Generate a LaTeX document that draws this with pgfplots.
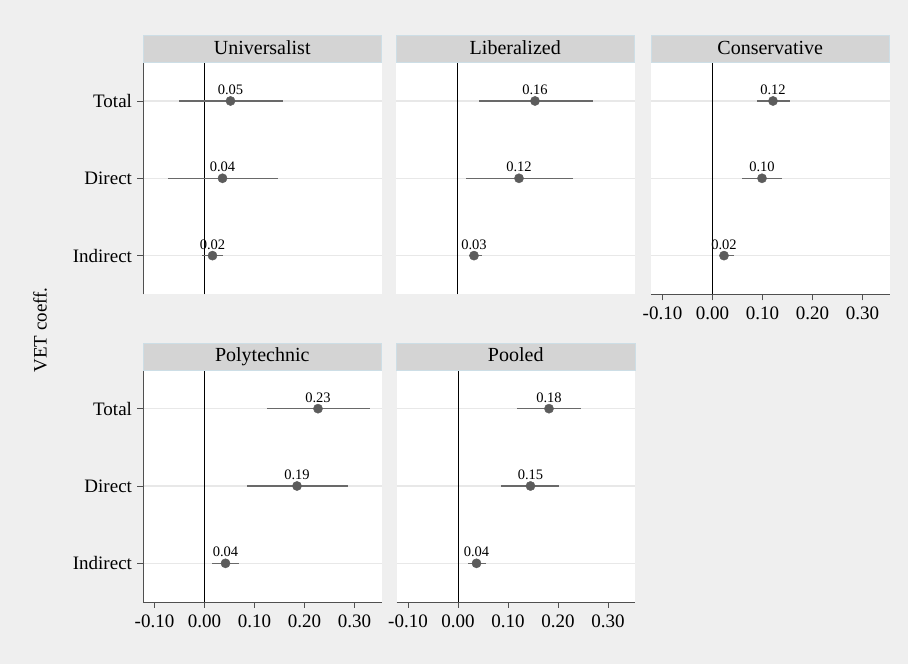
\documentclass[border=0pt]{standalone}
\usepackage{fontspec}
\setmainfont{Liberation Serif}
\usepackage{pgfplots}
\usepackage{pgfplotstable}
\pgfplotsset{compat=1.18}
\definecolor{bgc}{RGB}{239,239,239}
\definecolor{stripc}{RGB}{212,212,212}
\definecolor{stripb}{RGB}{205,222,230}
\definecolor{gridc}{RGB}{232,232,232}
\definecolor{ptc}{RGB}{92,92,92}
\definecolor{cic}{RGB}{105,105,105}
\definecolor{spinec}{RGB}{80,80,80}

\pgfplotsset{
 panel/.style={scale only axis, width=238.5pt, height=232pt,
   xmin=-0.123, xmax=0.354, ymin=0.5, ymax=3.5,
   ytick={1,2,3}, yticklabels={Indirect,Direct,Total},
   ymajorgrids, major grid style={gridc, line width=1.2pt},
   axis background/.style={fill=white},
   separate axis lines, axis x line*=bottom, axis y line*=left,
   x axis line style={spinec, line width=0.9pt, -},
   y axis line style={spinec, line width=0.9pt, -},
   tick align=outside,
   xtick={-0.1,0,0.1,0.2,0.3},
   tick label style={font=\fontsize{19}{21}\selectfont},
   y tick label style={xshift=-1.5pt},
   x tick label style={yshift=-3.5pt, /pgf/number format/.cd, fixed, fixed zerofill, precision=2, assume math mode=true},
   major tick length=6pt, tick style={spinec, line width=0.9pt},
   clip=false, anchor=south west},
 noleft/.style={yticklabels={}, y axis line style={draw=none}, ytick style={draw=none}},
 nobottom/.style={xtick=\empty, x axis line style={draw=none}},
 coef/.style={only marks, mark=*, mark size=4.6pt, mark options={fill=ptc, draw=ptc},
   nodes near coords, point meta=explicit symbolic,
   every node near coord/.append style={font=\fontsize{14.5}{16}\selectfont, anchor=south, inner sep=0pt, yshift=6pt, text=black},
   error bars/.cd, x dir=both, x explicit, error mark=none,
   error bar style={cic, line width=1.3pt}},
}
\newcommand{\zeroline}{\addplot[black, line width=0.8pt, no marks] coordinates {(0,0.5) (0,3.5)};}
\newcommand{\coefplot}[1]{\addplot[coef] table[x=b, y=y, x error plus expr=\thisrow{hi}-\thisrow{b}, x error minus expr=\thisrow{b}-\thisrow{lo}, meta=lab] {#1};}

\pgfplotstableread{
y b lo hi lab
3 0.052 -0.051 0.156 0.05
2 0.036 -0.073 0.146 0.04
1 0.016 -0.005 0.037 0.02
}\tUni
\pgfplotstableread{
y b lo hi lab
3 0.155 0.042 0.270 0.16
2 0.123 0.017 0.230 0.12
1 0.033 0.023 0.049 0.03
}\tLib
\pgfplotstableread{
y b lo hi lab
3 0.121 0.089 0.155 0.12
2 0.099 0.059 0.139 0.10
1 0.023 0.014 0.043 0.02
}\tCon
\pgfplotstableread{
y b lo hi lab
3 0.227 0.124 0.331 0.23
2 0.185 0.084 0.287 0.19
1 0.042 0.015 0.069 0.04
}\tPol
\pgfplotstableread{
y b lo hi lab
3 0.182 0.117 0.245 0.18
2 0.145 0.086 0.202 0.15
1 0.037 0.019 0.055 0.04
}\tPoo

\begin{document}
\begin{tikzpicture}[x=1pt,y=1pt]
\fill[bgc] (0,0) rectangle (908,664);

\begin{axis}[panel, nobottom, name=p1, at={(143pt,369.7pt)}]
\zeroline
\coefplot{\tUni}
\end{axis}

\begin{axis}[panel, nobottom, noleft, name=p2, at={(396pt,369.7pt)}]
\zeroline
\coefplot{\tLib}
\end{axis}

\begin{axis}[panel, noleft, name=p3, at={(651pt,369.7pt)}]
\zeroline
\coefplot{\tCon}
\end{axis}

\begin{axis}[panel, name=p4, at={(143pt,62pt)}]
\zeroline
\coefplot{\tPol}
\end{axis}

\begin{axis}[panel, noleft, name=p5, at={(396.5pt,62pt)}]
\zeroline
\coefplot{\tPoo}
\end{axis}

\foreach \n/\t in {p1/Universalist, p2/Liberalized, p3/Conservative, p4/Polytechnic, p5/Pooled} {
  \draw[fill=stripc, draw=stripb, line width=0.8pt] (\n.north west) rectangle ([yshift=27pt]\n.north east);
  \node[font=\fontsize{20}{22}\selectfont, anchor=base, inner sep=0pt] at ([yshift=8pt]\n.north) {\t};
}

\node[rotate=90, font=\fontsize{19}{21}\selectfont] at (40,334) {VET coeff.};
\end{tikzpicture}
\end{document}
